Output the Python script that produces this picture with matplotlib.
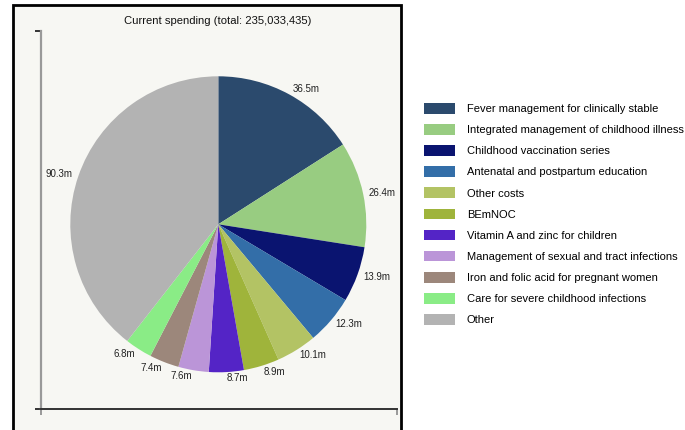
import matplotlib
matplotlib.use("Agg")
import matplotlib.pyplot as plt
from matplotlib.patches import Rectangle

plt.rcParams['font.family'] = ['Liberation Sans', 'DejaVu Sans']

# data (millions)
categories = ['Fever management for clinically stable',
              'Integrated management of childhood illness',
              'Childhood vaccination series',
              'Antenatal and postpartum education',
              'Other costs',
              'BEmNOC',
              'Vitamin A and zinc for children',
              'Management of sexual and tract infections',
              'Iron and folic acid for pregnant women',
              'Care for severe childhood infections',
              'Other']
values = [36.5, 26.4, 13.9, 12.3, 10.1, 8.9, 8.7, 7.6, 7.4, 6.8, 90.3]
colors = ['#2b4a6d', '#98cc81', '#0a1470', '#336ea8', '#b3c364', '#9fb43b',
          '#5424c6', '#bb95d8', '#9c877b', '#8aec86', '#b3b3b3']
title = 'Current spending (total: 235,033,435)'

W, H = 685, 430
fig = plt.figure(figsize=(W / 100, H / 100), dpi=100)
fig.patch.set_facecolor('white')

def fx(px):
    return px / W

def fy(py):
    return 1 - py / H

# panel frame
fig.patches.append(Rectangle((fx(13), -0.1), fx(401) - fx(13), fy(5) + 0.1,
                             transform=fig.transFigure, facecolor='#f7f7f3',
                             edgecolor='black', lw=2, zorder=-5))

# axis lines (d3 style)
ax_frame = fig.add_axes([fx(41), fy(409), fx(397) - fx(41), fy(31) - fy(409)])
ax_frame.patch.set_visible(False)
ax_frame.spines['top'].set_visible(False)
ax_frame.spines['right'].set_visible(False)
ax_frame.spines['left'].set_color('#999999')
ax_frame.spines['left'].set_linewidth(1.6)
ax_frame.spines['bottom'].set_color('#333333')
ax_frame.spines['bottom'].set_linewidth(1.4)
ax_frame.set_xlim(0, 1)
ax_frame.set_ylim(0, 1)
ax_frame.set_xticks([0, 1])
ax_frame.set_yticks([0, 1])
ax_frame.set_xticklabels([])
ax_frame.set_yticklabels([])
ax_frame.tick_params(axis='x', length=4, width=1.4, color='#999999', direction='out')
ax_frame.tick_params(axis='y', length=4, width=1.4, color='#333333', direction='out')

# pie
cx, cy, R = 218.3, 224.3, 148
half = 1.2 * R
ax = fig.add_axes([fx(cx - half), fy(cy + half), 2 * half / W, 2 * half / H])
ax.patch.set_visible(False)
labels = ['%.1fm' % v for v in values]
wedges, texts = ax.pie(values, colors=colors, startangle=90, counterclock=False,
                       labels=labels, labeldistance=1.04,
                       wedgeprops=dict(linewidth=0),
                       textprops=dict(fontsize=7, color='#222222'))
ax.set_xlim(-1.2, 1.2)
ax.set_ylim(-1.2, 1.2)
ax.set_aspect('auto')

fig.text(fx(218), fy(21), title, ha='center', va='center', fontsize=8.1,
         color='#111111')

fig.legend(wedges, categories, loc='upper left',
           bbox_to_anchor=(fx(424), fy(103)), frameon=False,
           fontsize=8.0, handlelength=2.8, handleheight=1.1,
           handletextpad=1.05, labelspacing=0.9, borderaxespad=0,
           borderpad=0)

fig.savefig('out.png', dpi=100)
